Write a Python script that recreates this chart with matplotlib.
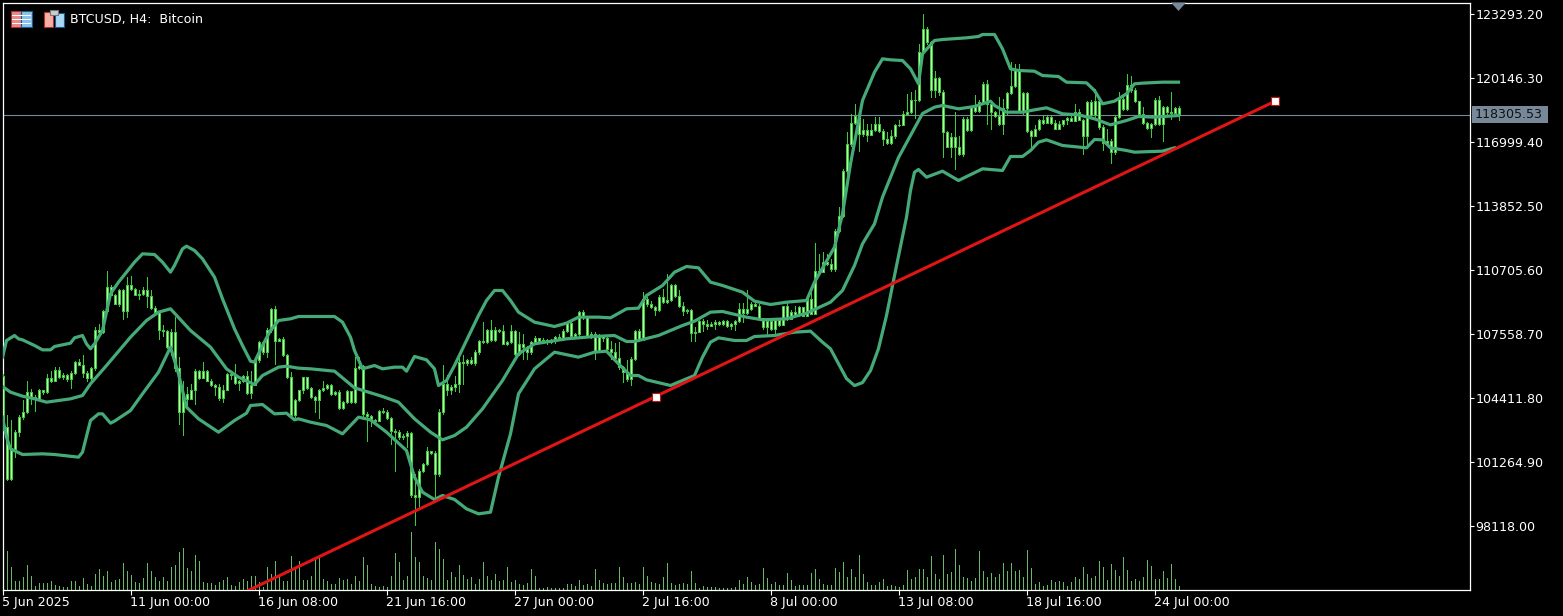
import matplotlib
matplotlib.use("Agg")
import matplotlib.pyplot as plt
from matplotlib.patches import Polygon, Rectangle
import numpy as np

W, H = 1563, 616

# candle values, one per H4 bar (open of a bar = close of the bar before)
closes = [
    102978, 100438, 101913, 102732, 103470, 103715, 104699, 104453, 104371, 104781,
    104699, 105387, 105272, 105797, 105436, 105551, 105322, 105633, 106174, 106059,
    105633, 105387, 105895, 107731, 107649, 108682, 109894, 109501, 109042, 109698,
    108682, 109944, 109780, 109501, 109534, 109698, 109403, 108845, 108649, 107731,
    107682, 106912, 107649, 105895, 103715, 104617, 104371, 104814, 105764, 105387,
    105764, 105272, 105027, 104945, 104404, 104814, 105600, 105535, 105142, 105272,
    105518, 104650, 105027, 106256, 107157, 106666, 107731, 108764, 107239, 107305,
    106502, 105436, 103552, 104322, 104781, 105436, 104912, 104453, 104338, 104814,
    104912, 105027, 104617, 104699, 103928, 104207, 104748, 104207, 105895, 105961,
    103601, 103551, 103338, 103273, 103765, 103715, 103437, 102781, 102732, 102486,
    102568, 102699, 99618, 99536, 100847, 101175, 101830, 101699, 100683, 103715,
    105109, 104781, 104945, 105109, 106174, 106125, 106289, 106125, 106666, 107206,
    107157, 107731, 107272, 107764, 107698, 107075, 107157, 107698, 106584, 107075,
    106911, 106666, 107157, 107370, 107239, 107272, 107157, 107272, 107403, 107370,
    107698, 108092, 107485, 107567, 108632, 108387, 107485, 107567, 106666, 107485,
    107371, 106830, 106666, 106387, 105928, 105682, 105355, 106338, 107698, 107272,
    109288, 109042, 108878, 108715, 109370, 109124, 109239, 109944, 109403, 108911,
    108682, 108715, 107600, 107649, 108174, 108059, 107928, 108026, 108141, 108059,
    108174, 107928, 108026, 108190, 108796, 108583, 108796, 109042, 108960, 108354,
    107895, 108190, 107813, 108223, 107977, 108911, 108305, 108633, 108469, 108878,
    108468, 109288, 108550, 110681, 110599, 111091, 111009, 110763, 112615, 113385,
    115565, 116877, 117925, 118302, 117401, 117598, 117368, 117598, 117860, 117516,
    117155, 116942, 117270, 117843, 117811, 118384, 118466, 119040, 119073, 121417,
    122564, 121908, 119532, 120155, 119450, 117483, 116778, 117237, 116745, 116418,
    118139, 117598, 118712, 118548, 118958, 119860, 118876, 118466, 118302, 117860,
    118679, 119401, 119745, 120564, 118548, 119401, 117532, 117319, 117647, 118090,
    117926, 118253, 117926, 117647, 117893, 118057, 118188, 118024, 118467, 118057,
    117319, 118958, 118303, 119007, 117729, 116942, 117073, 116500, 118253, 119122,
    118631, 119778, 119532, 119007, 118352, 117926, 117680, 117860, 119040, 117893,
    118712, 118467, 118417, 118663, 118305.53,
]
first_open = 105500

highs = [
    105600, 103552, 103306, 102814, 103552, 104289, 105272, 104863, 104535, 104863,
    104814, 105600, 105764, 105928, 105928, 105633, 105600, 105731, 106223, 106338,
    106502, 105764, 105928, 107895, 108059, 108747, 110681, 109944, 109534, 109780,
    109780, 110353, 110435, 109829, 109698, 109862, 110353, 109698, 108911, 108632,
    107977, 107731, 107813, 108387, 106420, 105272, 104945, 105109, 105846, 105797,
    106174, 105797, 105354, 105109, 105076, 105027, 105633, 105682, 106092, 105305,
    105567, 105764, 105764, 106420, 107239, 107239, 107862, 108845, 108911, 107370,
    107403, 106584, 105682, 104371, 104814, 105469, 105469, 104945, 104486, 104863,
    105272, 105076, 105076, 104748, 104781, 104256, 104814, 104748, 106420, 106420,
    106010, 103715, 103600, 103388, 103830, 103928, 103830, 103469, 102896, 102814,
    102650, 102781, 102732, 100683, 100929, 101208, 102027, 101830, 101830, 103879,
    106010, 105567, 105027, 105518, 106387, 106502, 106338, 106420, 106748, 107272,
    108141, 107813, 108223, 107895, 107813, 107977, 107206, 107977, 107764, 107649,
    107567, 106993, 107239, 107485, 107321, 107370, 107321, 107321, 107485, 107567,
    107813, 108190, 108141, 107616, 108714, 108747, 108387, 107649, 107649, 107567,
    107436, 107436, 107239, 107108, 107157, 105961, 106256, 106420, 107764, 107813,
    109616, 109370, 109173, 108960, 109452, 109780, 110485, 109993, 109993, 109698,
    109124, 108796, 108796, 107895, 108256, 108305, 108256, 108141, 108223, 108190,
    108223, 108223, 108092, 108223, 109075, 109075, 109698, 109124, 109124, 109042,
    108305, 108256, 108305, 108305, 108305, 108960, 109124, 108715, 108960, 108960,
    108715, 109370, 109731, 112025, 111501, 111583, 111468, 111255, 112730, 113795,
    115680, 117483, 118384, 118876, 118384, 118139, 117893, 117893, 118221, 118221,
    117647, 117483, 117565, 117893, 118057, 118548, 119368, 119450, 119532, 121826,
    123269, 122646, 121990, 120515, 120220, 119532, 117532, 117434, 118466, 117319,
    118221, 118221, 118745, 119319, 119040, 119941, 120056, 118958, 118548, 119204,
    119122, 119450, 120925, 120843, 120843, 119450, 119450, 117565, 117811, 118139,
    118303, 118303, 118303, 118057, 118024, 118057, 118221, 118303, 118876, 118630,
    118139, 119007, 119040, 119614, 118188, 117811, 117647, 117155, 118303, 119450,
    119368, 120319, 120269, 119663, 119007, 118712, 117975, 117926, 119171, 119237,
    118794, 118794, 119450, 118712, 118794,
]
lows = [
    102814, 100356, 100356, 101503, 102568, 103388, 103666, 104125, 103797, 104371,
    104617, 104666, 105191, 105272, 105404, 105354, 105272, 104912, 105600, 106010,
    105469, 105272, 105240, 105797, 107567, 107600, 108632, 109452, 109010, 108960,
    108305, 108419, 109698, 109452, 109288, 109452, 108878, 108796, 108583, 107321,
    107485, 106879, 106502, 105764, 103142, 102617, 104043, 104584, 104125, 105354,
    105436, 105240, 104978, 104535, 104289, 104207, 104781, 105354, 105109, 104814,
    105191, 104617, 104420, 105354, 106174, 106584, 106420, 107649, 106092, 107207,
    106453, 105404, 103502, 103502, 104256, 104650, 104863, 104420, 103715, 103437,
    104748, 104863, 104584, 104584, 103879, 103879, 104158, 104158, 104158, 105846,
    103551, 102322, 103059, 103109, 103273, 103666, 103387, 102158, 100847, 102404,
    102404, 101994, 99536, 98143, 99044, 100765, 101093, 101634, 99536, 100601,
    103601, 104535, 104617, 104748, 104699, 105109, 106010, 106092, 106010, 106551,
    107108, 107108, 107239, 107206, 107649, 107043, 106994, 107108, 106502, 106502,
    106338, 106338, 106584, 107075, 107157, 107157, 107075, 107108, 107108, 107272,
    107272, 107649, 107403, 107403, 107403, 108305, 107436, 107370, 106338, 107239,
    107239, 106781, 106338, 106256, 105846, 105191, 105272, 105027, 106256, 107206,
    107272, 108960, 108846, 108469, 108682, 109075, 109075, 109173, 109370, 108878,
    108469, 108583, 107239, 107206, 107764, 107698, 107813, 107928, 107813, 107977,
    107977, 107895, 107813, 107731, 108141, 108141, 108551, 108715, 108911, 108305,
    107813, 107436, 107764, 107600, 107928, 108141, 108256, 108387, 108420, 108420,
    108420, 108583, 108518, 109239, 110517, 110714, 110927, 110681, 110681, 112566,
    113336, 115434, 116827, 117860, 116581, 117319, 117040, 117368, 117532, 117483,
    116876, 116909, 116909, 117204, 117762, 117811, 118303, 118417, 118188, 119007,
    121367, 121826, 119204, 119204, 119335, 116254, 116745, 116254, 115680, 116336,
    116287, 117532, 117532, 118466, 118466, 118909, 117893, 117647, 118221, 117811,
    117401, 118384, 119368, 119695, 118466, 118384, 117483, 116778, 117401, 117565,
    117893, 117975, 117893, 117647, 117647, 117762, 117860, 118024, 118188, 118057,
    116418, 116778, 118188, 118139, 117647, 116582, 116942, 115959, 116418, 118188,
    118581, 118581, 119450, 118958, 118303, 117860, 117647, 117237, 117811, 117811,
    117040, 118385, 118139, 118417, 118090,
]

# tick volume per bar
volumes = [
    5, 39, 23, 9, 9, 13, 25, 14, 4, 7,
    7, 7, 9, 5, 4, 3, 3, 9, 9, 4,
    12, 6, 4, 16, 21, 14, 19, 8, 10, 11,
    27, 19, 15, 8, 7, 12, 27, 19, 13, 9,
    13, 9, 23, 25, 38, 42, 22, 19, 35, 29,
    8, 7, 7, 5, 8, 10, 13, 5, 4, 8,
    11, 9, 14, 14, 8, 3, 23, 16, 29, 13,
    9, 9, 34, 23, 29, 10, 10, 14, 31, 32,
    11, 9, 6, 6, 12, 10, 11, 6, 14, 9,
    33, 25, 6, 4, 3, 4, 3, 14, 37, 28,
    10, 14, 58, 33, 28, 14, 12, 10, 48, 41,
    31, 10, 18, 13, 25, 15, 11, 13, 6, 11,
    28, 14, 10, 16, 9, 10, 23, 8, 10, 6,
    5, 7, 21, 14, 2, 2, 3, 2, 2, 2,
    2, 6, 6, 4, 10, 5, 6, 4, 21, 10,
    7, 6, 7, 7, 23, 13, 7, 7, 8, 6,
    23, 14, 8, 7, 6, 13, 27, 7, 5, 6,
    7, 6, 19, 7, 2, 4, 3, 3, 3, 2,
    2, 2, 2, 3, 10, 6, 13, 8, 5, 6,
    22, 12, 6, 8, 5, 5, 17, 10, 4, 5,
    5, 5, 17, 21, 11, 6, 5, 5, 22, 18,
    28, 13, 21, 13, 35, 16, 8, 5, 5, 8,
    11, 4, 5, 4, 3, 5, 20, 11, 13, 21,
    21, 13, 34, 16, 11, 35, 16, 18, 41, 25,
    13, 12, 9, 12, 39, 19, 13, 17, 13, 16,
    27, 19, 27, 19, 20, 13, 40, 22, 6, 8,
    4, 5, 10, 8, 9, 8, 4, 8, 13, 11,
    23, 16, 12, 14, 29, 23, 10, 26, 20, 14,
    33, 20, 9, 11, 9, 13, 30, 24, 11, 11,
    19, 12, 26, 11, 4,
]

# Bollinger bands, read at the turning points of each line
upper_idx = [0, 1, 3, 4, 5, 8, 10, 12, 13, 17, 18, 20, 21, 22, 23, 25, 27, 29, 31, 33,
             35, 38, 40, 42, 43, 45, 46, 48, 50, 53, 55, 58, 60, 62, 63, 65, 67, 69, 72, 74,
             83, 85, 87, 88, 90, 93, 95, 98, 100, 101, 103, 106, 108, 109, 111, 113, 116, 119, 121, 123,
             125, 127, 129, 133, 138, 141, 144, 149, 152, 156, 159, 161, 165, 168, 171, 174, 177, 180, 185, 188,
             192, 196, 201, 203, 208, 210, 212, 215, 218, 220, 222, 225, 227, 229, 230, 233, 235, 241, 244, 245,
             248, 250, 252, 254, 258, 260, 264, 266, 271, 273, 275, 278, 281, 283, 285, 290, 294]
upper_val = [106420, 107239, 107485, 107321, 107272, 106994, 106780, 106780, 106944, 107108,
             107370, 107485, 107075, 106830, 107075, 107731, 109534, 110108, 110599, 111091,
             111501, 111468, 111091, 110599, 110927, 111747, 111878, 111665, 111255, 110353,
             109288, 107813, 106994, 106223, 106174, 106994, 107731, 108223, 108305, 108419,
             108419, 108141, 107403, 106748, 105846, 106010, 105846, 105928, 105928, 105731,
             106453, 106289, 105846, 105026, 105272, 106010, 107239, 108468, 109206, 109698,
             109698, 109206, 108632, 108141, 107928, 108092, 108387, 108387, 108354, 108796,
             108829, 109452, 109944, 110599, 110878, 110812, 110108, 109944, 109616, 109173,
             109009, 109124, 109206, 110107, 111828, 113467, 115926, 119040, 120433, 121089,
             121040, 121007, 120597, 119860, 121335, 121990, 122039, 122121, 122187, 122285,
             122285, 121580, 120597, 120515, 120482, 120269, 120220, 119941, 119909, 119532,
             118876, 119007, 119368, 119860, 119893, 119942, 119942]

middle_idx = [0, 2, 5, 8, 11, 17, 20, 22, 26, 32, 36, 39, 42, 47, 52, 56, 59, 63, 65, 69,
              71, 74, 77, 83, 88, 95, 99, 103, 107, 110, 113, 116, 120, 125, 129, 133, 141, 148, 153, 156,
              158, 164, 170, 173, 177, 180, 186, 190, 196, 201, 207, 210, 213, 215, 218, 220, 224, 227, 230, 233,
              235, 239, 243, 247, 248, 251, 255, 258, 261, 265, 269, 273, 277, 281, 284, 288, 294]
middle_val = [104978, 104699, 104502, 104371, 104207, 104371, 104535, 105108, 106010, 107403,
              108223, 108632, 108796, 107731, 106912, 105846, 105436, 105076, 105518, 105928,
              105977, 105879, 105846, 105731, 104912, 104486, 104207, 103388, 102732, 102355,
              102568, 102978, 103879, 105272, 106584, 107075, 107321, 107436, 107485, 107190,
              107190, 107485, 107977, 108190, 108633, 108665, 108387, 108256, 108305, 108583,
              109124, 109698, 110927, 111993, 112976, 114287, 116237, 117319, 118400, 118712,
              118794, 118630, 118745, 119007, 118794, 118466, 118466, 118581, 118680, 118385,
              118335, 118139, 117844, 118057, 118254, 118221, 118303]

lower_idx = [0, 1, 2, 5, 10, 13, 19, 20, 22, 24, 25, 27, 28, 32, 35, 39, 42, 44, 46, 49,
             54, 58, 61, 62, 65, 68, 71, 73, 74, 77, 81, 85, 89, 92, 96, 101, 103, 105, 108, 110,
             113, 116, 119, 122, 124, 127, 129, 133, 138, 144, 148, 151, 154, 157, 159, 161, 167, 173, 175, 177,
             179, 183, 186, 188, 193, 198, 202, 205, 207, 211, 213, 215, 217, 219, 221, 223, 226, 227, 228, 229, 231,
             235, 239, 245, 250, 252, 255, 257, 259, 261, 265, 271, 273, 275, 277, 281, 283, 290, 293]
lower_val = [103470, 102486, 101912, 101634, 101667, 101634, 101503, 101749, 103306, 103633,
             103633, 103175, 103273, 103797, 104617, 105682, 106912, 105600, 103961, 103387,
             102732, 103306, 103666, 104043, 104092, 103633, 103666, 103338, 103388, 103224,
             103059, 102650, 103469, 103338, 102732, 101830, 100519, 99782, 99421, 99618,
             99421, 98962, 98716, 98798, 100519, 102650, 104617, 105846, 106666, 106420,
             106666, 106715, 106092, 105518, 105518, 105305, 105027, 105518, 106420, 107157,
             107370, 107240, 107240, 107436, 107485, 107649, 107698, 107157, 106830, 105367,
             105023, 105170, 105760, 106841, 108464, 110431, 113303, 114615, 115516, 115647, 115270,
             115565, 115106, 115680, 115598, 116287, 116287, 116582, 116991, 117106, 116828,
             116713, 117123, 117106, 116713, 116582, 116500, 116549, 116713]

# trend line anchors
trend_idx = [60, 163.25, 318]
trend_val = [94812, 104485, 118991]

current_price = 118305.53
price_ticks = [123293.20, 120146.30, 116999.40, 113852.50, 110705.60,
               107558.70, 104411.80, 101264.90, 98118.00]
date_idx = [0, 32, 64, 96, 128, 160, 192, 224, 256, 288]
date_labels = ["5 Jun 2025", "11 Jun 00:00", "16 Jun 08:00", "21 Jun 16:00", "27 Jun 00:00",
               "2 Jul 16:00", "8 Jul 00:00", "13 Jul 08:00", "18 Jul 16:00", "24 Jul 00:00"]

opens = [first_open] + closes[:-1]
idx = np.arange(len(closes))

BAND = "#46aa78"
WICK = "#3ccb3c"
BODY = "#b8f7a8"
VOL = "#66b966"
SLATE = "#778899"
FS = 9.1

fig = plt.figure(figsize=(W / 100, H / 100), dpi=100, facecolor="black")
plt.rcParams["font.family"] = ["DejaVu Sans"]

pos = [2.5 / W, 1 - 589.5 / H, 1467 / W, 587 / H]

# volumes go on their own scale under the price chart
ax_vol = fig.add_axes(pos, frameon=False, zorder=1)
ax_vol.set_xlim(0, 1467 / 4)
ax_vol.set_ylim(0, 587)
ax_vol.vlines(idx, 0, volumes, color=VOL, lw=0.72, antialiased=False)
ax_vol.axis("off")

ax = fig.add_axes(pos, zorder=2)
ax.patch.set_visible(False)
ax.set_xlim(0, 1467 / 4)
ax.set_ylim(123293.2 - 49.17 * 575.5, 123293.2 + 49.17 * 11.5)

# candles
ax.vlines(idx, lows, highs, color=WICK, lw=0.72, antialiased=False, zorder=3)
body_low = np.minimum(opens, closes)
body_h = np.abs(np.array(closes) - np.array(opens))
ax.bar(idx, body_h, bottom=body_low, width=0.5, color=BODY, edgecolor=WICK, lw=0.72,
       antialiased=False, zorder=4)

# bands
ax.plot(upper_idx, upper_val, color=BAND, lw=2.3, zorder=5)
ax.plot(middle_idx, middle_val, color=BAND, lw=2.3, zorder=5)
ax.plot(lower_idx, lower_val, color=BAND, lw=2.3, zorder=5)

# current price line and trend line
ax.axhline(current_price, color=SLATE, lw=0.8, zorder=2)
ax.plot(trend_idx, trend_val, color="#e01515", lw=2.2, zorder=6)
ax.plot(trend_idx[1:], trend_val[1:], "s", ms=5.2, mfc="white", mec="#c01515", mew=0.8, zorder=7)

# axes
for s in ax.spines.values():
    s.set_color("white")
    s.set_linewidth(0.9)
ax.yaxis.tick_right()
ax.set_yticks(price_ticks)
ax.set_yticklabels([f"{p:.2f}" for p in price_ticks])
ax.set_xticks(date_idx)
ax.set_xticklabels(date_labels, ha="left")
ax.tick_params(axis="y", colors="white", length=3, width=0.8, pad=1.2, labelsize=FS)
ax.tick_params(axis="x", colors="white", length=3.6, width=0.8, pad=1.3, labelsize=FS)


# decoration drawn in picture pixels
def px_rect(x, y, w, h, color, ec="none"):
    fig.add_artist(Rectangle((x / W, 1 - (y + h) / H), w / W, h / H, transform=fig.transFigure,
                             fc=color, ec=ec, lw=0.8, zorder=10))


def px_text(x, y, s, color="white"):
    fig.text(x / W, 1 - y / H, s, color=color, fontsize=FS, va="center", ha="left", zorder=11)


# price label and chart shift triangle
px_rect(1472, 106, 76, 17, SLATE)
px_text(1475, 115, f"{current_price:.2f}", "#111111")
fig.add_artist(Polygon([(1171 / W, 1 - 2.5 / H), (1186 / W, 1 - 2.5 / H), (1178.5 / W, 1 - 11 / H)],
                       transform=fig.transFigure, fc=SLATE, ec="none", zorder=10))

# title and the two icons
px_text(70, 19, "BTCUSD, H4:  Bitcoin")
px_rect(11, 11, 10, 16, "#e88a8a", "#b03030")
px_rect(21, 11, 11, 16, "#8ac4ee", "#1c5a90")
for yy in [15, 19, 23]:
    px_rect(12, yy, 19, 1, "white")
px_rect(44, 12, 9, 15, "#f0b0a8", "#b03030")
px_rect(55, 13, 9, 14, "#a8d8f5", "#1c5a90")
px_rect(50, 10, 8, 5, "#cccccc", "#777777")

fig.savefig("out.png", dpi=100, facecolor="black")
